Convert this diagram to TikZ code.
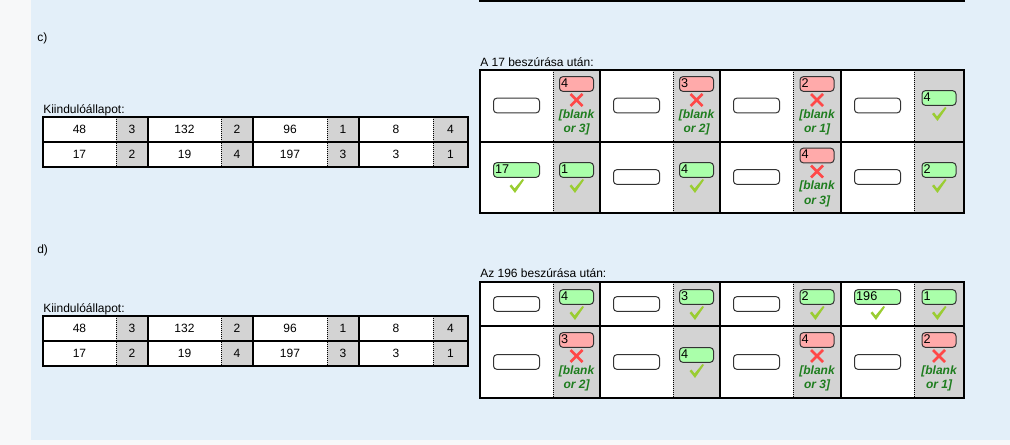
\documentclass[tikz,border=0pt]{standalone}
\usepackage{fontspec}
\setmainfont{Liberation Sans}
\usetikzlibrary{positioning}

\definecolor{pagegray}{RGB}{247,248,249}
\definecolor{paneblue}{RGB}{227,239,249}
\definecolor{cellgray}{RGB}{211,211,211}
\definecolor{goodfill}{RGB}{170,255,170}
\definecolor{badfill}{RGB}{255,170,170}
\definecolor{tickgreen}{RGB}{154,205,50}
\definecolor{crossred}{RGB}{255,72,72}
\definecolor{hintgreen}{RGB}{30,125,30}

\tikzset{
  tline/.style={line width=0.9pt, black},
  dotline/.style={line width=0.75pt, black, dash pattern=on 0.75pt off 0.75pt},
  lbl/.style={anchor=base west, inner sep=0pt, font=\fontsize{9}{11}\selectfont},
  val/.style={inner sep=0pt, font=\fontsize{9}{11}\selectfont},
  wbox/.style={draw=black!80, line width=0.75pt, rounded corners=2.5pt, fill=white,
    text width=32pt, inner xsep=1.25pt, inner ysep=0pt, minimum height=11pt,
    text height=7pt, text depth=2pt, align=left, font=\fontsize{9.5}{11}\selectfont},
  gbox/.style={wbox, text width=23pt},
  good/.style={fill=goodfill},
  bad/.style={fill=badfill},
  hint/.style={align=center, inner sep=0pt, text=hintgreen,
    font=\fontsize{9}{11}\selectfont\bfseries\itshape},
  tickmark/.pic={\fill[tickgreen] (-7,0) -- (-5,-1.5) -- (-2,2.5) -- (6,-7) -- (7.5,-6) -- (-1.5,7) -- cycle;},
  crossmark/.pic={\draw[crossred, line width=1.9pt] (-6,-6) -- (6,6) (-6,6) -- (6,-6);},
}

\begin{document}
\begin{tikzpicture}[x=0.75pt, y=-0.75pt]
\useasboundingbox (0,0) rectangle (1010,445);
\fill[pagegray] (0,0) rectangle (1010,445);
\fill[paneblue] (31,0) rectangle (1010,440);

% column centres of the result tables
\def\xwa{516.5} \def\xga{576.5}
\def\xwb{636.5} \def\xgb{696.5}
\def\xwc{756.5} \def\xgc{817}
\def\xwd{877.5} \def\xgd{939}

% tail of the table above
\fill[white] (480,-10) rectangle (964,1);
\foreach \a/\b in {553/600, 673/720, 793/841, 914/964}
  \fill[cellgray] (\a,-10) rectangle (\b,1);
\draw[tline] (480,-10) -- (480,1) -- (964,1) -- (964,-10);
\foreach \a in {600,720,841} \draw[tline] (\a,-10) -- (\a,1);
\foreach \a in {553,673,793,914} \draw[dotline] (\a,-10) -- (\a,1);

% starting tables
\foreach \t in {117,316} {
  \fill[white] (43,\t) rectangle (468,\t+50);
  \foreach \a/\b in {116/148, 221/253, 327/359, 433/468}
    \fill[cellgray] (\a,\t) rectangle (\b,\t+50);
  \draw[tline] (43,\t) rectangle (468,\t+50);
  \draw[tline] (43,\t+25) -- (468,\t+25);
  \foreach \a in {148,253,359} \draw[tline] (\a,\t) -- (\a,\t+50);
  \foreach \a in {116,221,327,433} \draw[dotline] (\a,\t) -- (\a,\t+50);
}

% result tables
\foreach \t/\m/\b in {70/142/213, 282/326/398} {
  \fill[white] (480,\t) rectangle (964,\b);
  \foreach \p/\q in {553/600, 673/720, 793/841, 914/964}
    \fill[cellgray] (\p,\t) rectangle (\q,\b);
  \draw[tline] (480,\t) rectangle (964,\b);
  \draw[tline] (480,\m) -- (964,\m);
  \foreach \a in {600,720,841} \draw[tline] (\a,\t) -- (\a,\b);
  \foreach \a in {553,673,793,914} \draw[dotline] (\a,\t) -- (\a,\b);
}

% labels
\node[lbl] (clabel) at (37,42) {c)};
\node[lbl] (cstart) at (43,114) {Kiindulóállapot:};
\node[lbl] (cafter) at (480,66.5) {A 17 beszúrása után:};
\node[lbl] (dlabel) at (37,254) {d)};
\node[lbl] (dstart) at (43,312) {Kiindulóállapot:};
\node[lbl] (dafter) at (480,278) {Az 196 beszúrása után:};

% starting values
\foreach \x/\u/\v [count=\i] in {79.5/48/17, 132/3/2, 184.5/132/19, 237/2/4,
    290/96/197, 343/1/3, 396/8/3, 450.5/4/1} {
  \node[val] (ca\i) at (\x,129.5) {\u};
  \node[val] (cb\i) at (\x,154.5) {\v};
  \node[val] (da\i) at (\x,328.5) {\u};
  \node[val] (db\i) at (\x,353.5) {\v};
}

% c) first row
\node[wbox] (c1w1) at (\xwa,105.5) {};
\node[gbox,bad] (c1g1) at (\xga,84) {4};
\pic at (\xga,100) {crossmark};
\node[hint] (c1h1) at (\xga,122.5) {[blank\\or 3]};
\node[wbox] (c1w2) at (\xwb,105.5) {};
\node[gbox,bad] (c1g2) at (\xgb,84) {3};
\pic at (\xgb,100) {crossmark};
\node[hint] (c1h2) at (\xgb,122.5) {[blank\\or 2]};
\node[wbox] (c1w3) at (\xwc,105.5) {};
\node[gbox,bad] (c1g3) at (\xgc,84) {2};
\pic at (\xgc,100) {crossmark};
\node[hint] (c1h3) at (\xgc,122.5) {[blank\\or 1]};
\node[wbox] (c1w4) at (\xwd,105.5) {};
\node[gbox,good] (c1g4) at (\xgd,98) {4};
\pic at (\xgd,114) {tickmark};

% c) second row
\node[wbox,good] (c2w1) at (\xwa,170) {17};
\pic at (\xwa,186) {tickmark};
\node[gbox,good] (c2g1) at (\xga,170) {1};
\pic at (\xga,186) {tickmark};
\node[wbox] (c2w2) at (\xwb,177) {};
\node[gbox,good] (c2g2) at (\xgb,170) {4};
\pic at (\xgb,186) {tickmark};
\node[wbox] (c2w3) at (\xwc,177) {};
\node[gbox,bad] (c2g3) at (\xgc,155.5) {4};
\pic at (\xgc,171.5) {crossmark};
\node[hint] (c2h3) at (\xgc,194) {[blank\\or 3]};
\node[wbox] (c2w4) at (\xwd,177) {};
\node[gbox,good] (c2g4) at (\xgd,170) {2};
\pic at (\xgd,186) {tickmark};

% d) first row
\node[wbox] (d1w1) at (\xwa,304) {};
\node[gbox,good] (d1g1) at (\xga,297) {4};
\pic at (\xga,313) {tickmark};
\node[wbox] (d1w2) at (\xwb,304) {};
\node[gbox,good] (d1g2) at (\xgb,297) {3};
\pic at (\xgb,313) {tickmark};
\node[wbox] (d1w3) at (\xwc,304) {};
\node[gbox,good] (d1g3) at (\xgc,297) {2};
\pic at (\xgc,313) {tickmark};
\node[wbox,good] (d1w4) at (\xwd,297) {196};
\pic at (\xwd,313) {tickmark};
\node[gbox,good] (d1g4) at (\xgd,297) {1};
\pic at (\xgd,313) {tickmark};

% d) second row
\node[wbox] (d2w1) at (\xwa,362) {};
\node[gbox,bad] (d2g1) at (\xga,340) {3};
\pic at (\xga,356) {crossmark};
\node[hint] (d2h1) at (\xga,378.5) {[blank\\or 2]};
\node[wbox] (d2w2) at (\xwb,362) {};
\node[gbox,good] (d2g2) at (\xgb,355) {4};
\pic at (\xgb,371) {tickmark};
\node[wbox] (d2w3) at (\xwc,362) {};
\node[gbox,bad] (d2g3) at (\xgc,340) {4};
\pic at (\xgc,356) {crossmark};
\node[hint] (d2h3) at (\xgc,378.5) {[blank\\or 3]};
\node[wbox] (d2w4) at (\xwd,362) {};
\node[gbox,bad] (d2g4) at (\xgd,340) {2};
\pic at (\xgd,356) {crossmark};
\node[hint] (d2h4) at (\xgd,378.5) {[blank\\or 1]};
\end{tikzpicture}
\end{document}
